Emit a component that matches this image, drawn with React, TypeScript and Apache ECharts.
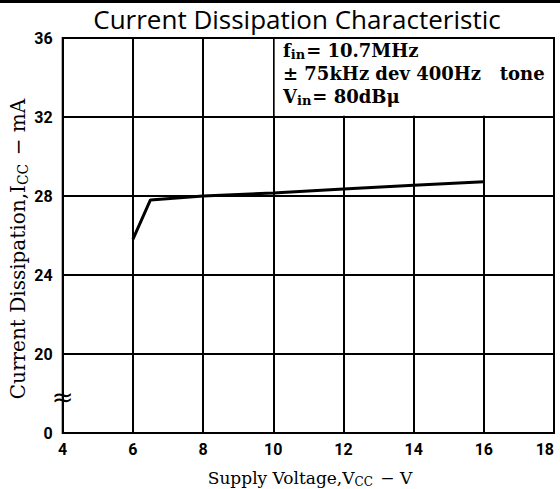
import React, { useEffect, useRef } from "react";
import * as echarts from "echarts";

const voltage = [6, 6.5, 8, 10, 12, 14, 16];
const current = [25.8, 27.8, 28.0, 28.15, 28.35, 28.55, 28.72];
const xTicks = [4, 6, 8, 10, 12, 14, 16, 18];
const yTicks = [16, 20, 24, 28, 32, 36];
const yTickLabels = ["0", "20", "24", "28", "32", "36"];
const titleText = "Current Dissipation Characteristic";
const xAxisTitle = "Supply Voltage,V{sub|CC} − V";
const yAxisTitle = "Current Dissipation,I{sub|CC} − mA";
const noteLines = ["f{sub|in}= 10.7MHz", "± 75kHz dev 400Hz   tone", "V{sub|in}= 80dBμ"];

export default function App() {
  const ref = useRef<HTMLDivElement>(null);
  useEffect(() => {
    document.body.style.margin = "0";
    const chart = echarts.init(ref.current!, null, { renderer: "svg" });
    const serif = "DejaVu Serif";
    const tickFont = "Roboto";
    const option: any = {
      animation: false,
      backgroundColor: "#fff",
      title: {
        text: titleText,
        left: 292,
        textAlign: "center",
        top: 1,
        textStyle: { fontFamily: "Open Sans", fontSize: 26, fontWeight: "normal", color: "#000" },
      },
      grid: {
        left: 62.7,
        right: 6,
        top: 38,
        bottom: 56,
        outerBoundsMode: "none",
        containLabel: false,
        show: true,
        borderColor: "#000",
        borderWidth: 2,
        backgroundColor: "transparent",
      },
      xAxis: {
        type: "value",
        min: 4,
        max: 18,
        interval: 2,
        axisLine: { show: false },
        axisTick: { show: false },
        splitLine: { show: true, lineStyle: { color: "#000", width: 2 } },
        axisLabel: {
          margin: 8,
          fontFamily: tickFont,
          fontWeight: "bold",
          fontSize: 16,
          color: "#000",
          alignMaxLabel: "right",
          formatter: (v: number) => (xTicks.includes(v) ? String(v) : ""),
        },
      },
      yAxis: {
        type: "value",
        min: 16,
        max: 36,
        interval: 4,
        axisLine: { show: false },
        axisTick: { show: false },
        splitLine: { show: true, lineStyle: { color: "#000", width: 2 } },
        axisLabel: {
          margin: 10,
          fontFamily: tickFont,
          fontWeight: "bold",
          fontSize: 16,
          color: "#000",
          formatter: (v: number) => {
            const i = yTicks.indexOf(v);
            return i >= 0 ? yTickLabels[i] : "";
          },
        },
      },
      series: [
        {
          type: "line",
          data: voltage.map((v, i) => [v, current[i]]),
          symbol: "none",
          lineStyle: { color: "#000", width: 3 },
          markArea: {
            silent: true,
            itemStyle: { color: "#fff", borderWidth: 0 },
            label: { show: false },
            data: [[{ coord: [10.04, 32.06] }, { coord: [17.97, 35.95] }]],
          },
          markPoint: {
            symbol: "circle",
            symbolSize: 1,
            itemStyle: { color: "transparent" },
            label: { show: true, formatter: "≈", fontSize: 26, fontFamily: "DejaVu Sans", color: "#000", position: "inside" },
            data: [{ coord: [4, 17.8] }],
          },
        },
      ],
      graphic: [
        { type: "rect", z: 100, shape: { x: 0, y: 0, width: 560, height: 3 }, style: { fill: "#000" } },
        {
          type: "text",
          z: 100,
          x: 310,
          y: 478,
          style: {
            text: xAxisTitle,
            fontFamily: serif,
            fontSize: 17,
            fill: "#000",
            align: "center",
            verticalAlign: "middle",
            rich: { sub: { fontFamily: serif, fontSize: 12, padding: [7, 2, 0, 0], fill: "#000" } },
          },
        },
        {
          type: "text",
          z: 100,
          x: 18,
          y: 249,
          rotation: Math.PI / 2,
          style: {
            text: yAxisTitle,
            fontFamily: serif,
            fontSize: 20,
            fill: "#000",
            align: "center",
            verticalAlign: "middle",
            rich: { sub: { fontFamily: serif, fontSize: 14, padding: [9, 2, 0, 0], fill: "#000" } },
          },
        },
        {
          type: "text",
          z: 100,
          x: 283,
          y: 39,
          style: {
            text: noteLines.join("\n"),
            fontFamily: serif,
            fontSize: 18,
            fontWeight: "bold",
            lineHeight: 23,
            fill: "#000",
            rich: {
              sub: { fontFamily: serif, fontSize: 13, fontWeight: "bold", padding: [8, 1, 0, 0], fill: "#000" },
            },
          },
        },
      ],
    };
    chart.setOption(option);
    return () => chart.dispose();
  }, []);
  return <div ref={ref} style={{ width: 560, height: 489 }} />;
}
